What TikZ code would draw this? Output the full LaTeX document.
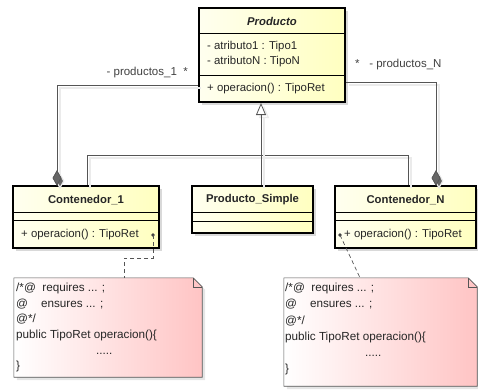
\documentclass[tikz,border=0pt]{standalone}
\usepackage{fontspec}
\setmainfont{Liberation Sans}
\usetikzlibrary{arrows.meta,shadows}

\definecolor{linegray}{HTML}{555555}
\definecolor{notepink}{HTML}{FFC4C4}
\definecolor{classyellow}{HTML}{FFFFC0}

\begin{document}
\begin{tikzpicture}[x=1pt, y=-1pt,
	every node/.style={font=\fontsize{11.4}{13}\selectfont, inner sep=0pt, text=black!85},
	umlclass/.style={draw=black, line width=1.7pt, left color=classyellow!25, right color=classyellow,
		drop shadow={shadow xshift=3pt, shadow yshift=-3pt, fill=black!25, opacity=.6}},
	classname/.style={font=\fontsize{11.3}{13}\selectfont\bfseries},
	sep/.style={draw=black, line width=0.9pt},
	umlnote/.style={draw=linegray, line width=0.6pt, left color=white, right color=notepink,
		drop shadow={shadow xshift=3pt, shadow yshift=-3pt, fill=black!20, opacity=.5}},
	assoc/.style={draw=linegray, line width=0.8pt,
		preaction={draw=black!8, line width=1.2pt, transform canvas={shift={(3pt,-3pt)}}}},
	notelink/.style={draw=linegray, line width=0.7pt, dash pattern=on 4pt off 3pt},
	role/.style={font=\fontsize{11.5}{13}\selectfont, text=black!75},
	>={Triangle[open, length=12pt, width=10pt, fill=white]}]

	\useasboundingbox (0,0) rectangle (478,389);

	\node[umlclass, minimum width=146pt, minimum height=94pt] (prod) at (272,55) {};
	\draw[sep] (prod.west |- 0,33) -- (prod.east |- 0,33);
	\draw[sep] (prod.west |- 0,75) -- (prod.east |- 0,75);
	\node[classname, font=\fontsize{11.3}{13}\selectfont\bfseries\itshape] (prodname) at (272,21) {Producto};
	\node[anchor=west] (prodattr1) at (207,47) {- atributo1 : Tipo1};
	\node[anchor=west] (prodattr2) at (207,62) {- atributoN : TipoN};
	\node[anchor=west] (prodop) at (207,89) {+ operacion() : TipoRet};

	\node[umlclass, minimum width=146pt, minimum height=62pt] (cont1) at (86,217) {};
	\draw[sep] (cont1.west |- 0,212) -- (cont1.east |- 0,212);
	\draw[sep] (cont1.west |- 0,220) -- (cont1.east |- 0,220);
	\node[classname] (cont1name) at (86,200) {Contenedor\_1};
	\node[anchor=west] (cont1op) at (21,235) {+ operacion() : TipoRet};
	\fill[black!75] (153,235) circle (1.8pt) coordinate (dot1);

	\node[umlclass, minimum width=121pt, minimum height=47pt] (simple) at (252.5,209.5) {};
	\draw[sep] (simple.west |- 0,212) -- (simple.east |- 0,212);
	\draw[sep] (simple.west |- 0,221) -- (simple.east |- 0,221);
	\node[classname] (simplename) at (252.5,200) {Producto\_Simple};

	\node[umlclass, minimum width=141pt, minimum height=62pt] (contN) at (405.5,217) {};
	\draw[sep] (contN.west |- 0,212) -- (contN.east |- 0,212);
	\draw[sep] (contN.west |- 0,220) -- (contN.east |- 0,220);
	\node[classname] (contNname) at (405.5,200) {Contenedor\_N};
	\node[anchor=west] (contNop) at (344,235) {+ operacion() : TipoRet};
	\fill[black!75] (340,235) circle (1.8pt) coordinate (dotN);

	\coordinate (hub) at (261,155);
	\coordinate (tip) at (261,103);
	\coordinate (agg1) at (57,186);
	\coordinate (aggN) at (436,186);
	\draw[assoc] (cont1.north -| 87,0) |- (hub);
	\draw[assoc] (contN.north -| 408,0) |- (hub);
	\draw[assoc] (simple.north -| hub) -- (hub);
	\draw[assoc, ->] (hub) -- (tip);

	\draw[assoc, {Diamond[length=16pt, width=9pt, fill=black!60]}-] (agg1) |- (prod.west |- 0,85);
	\draw[assoc, {Diamond[length=16pt, width=9pt, fill=black!60]}-] (aggN) |- (prod.east |- 0,82);
	\node[role, anchor=east] (role1) at (188,73) {- productos\_1~~*};
	\node[role, anchor=west] (roleN) at (355,65) {*~~~- productos\_N};

	\node[minimum width=188pt, minimum height=99pt] (note1) at (108,327.5) {};
	\path[umlnote] (note1.south west) -- (note1.north west) -- ([xshift=-9pt]note1.north east)
		-- ([yshift=-9pt]note1.north east) -- (note1.south east) -- cycle;
	\draw[linegray, line width=0.6pt] ([xshift=-9pt]note1.north east) |- ([yshift=-9pt]note1.north east);
	\node[anchor=north west, align=left, font=\fontsize{11.7}{15.6}\selectfont] (note1txt) at (16,283)
		{/*@\ \ requires ... ;\\@\ \ \ \ ensures ... ;\\@*/\\public TipoRet operacion()\{\\\hspace*{80pt}.....\\\}};

	\node[minimum width=193pt, minimum height=108pt] (noteN) at (380.5,332) {};
	\path[umlnote] (noteN.south west) -- (noteN.north west) -- ([xshift=-9pt]noteN.north east)
		-- ([yshift=-9pt]noteN.north east) -- (noteN.south east) -- cycle;
	\draw[linegray, line width=0.6pt] ([xshift=-9pt]noteN.north east) |- ([yshift=-9pt]noteN.north east);
	\node[anchor=north west, align=left, font=\fontsize{11.7}{16.2}\selectfont] (noteNtxt) at (285,283)
		{/*@\ \ requires ... ;\\@\ \ \ \ ensures ... ;\\@*/\\public TipoRet operacion()\{\\\hspace*{80pt}.....\\\}};

	\draw[notelink] (dot1) -- (dot1 |- 0,258) -| (note1.north -| 124,0);
	\draw[notelink] (dotN) -- (noteN.north -| 360,0);
\end{tikzpicture}
\end{document}
